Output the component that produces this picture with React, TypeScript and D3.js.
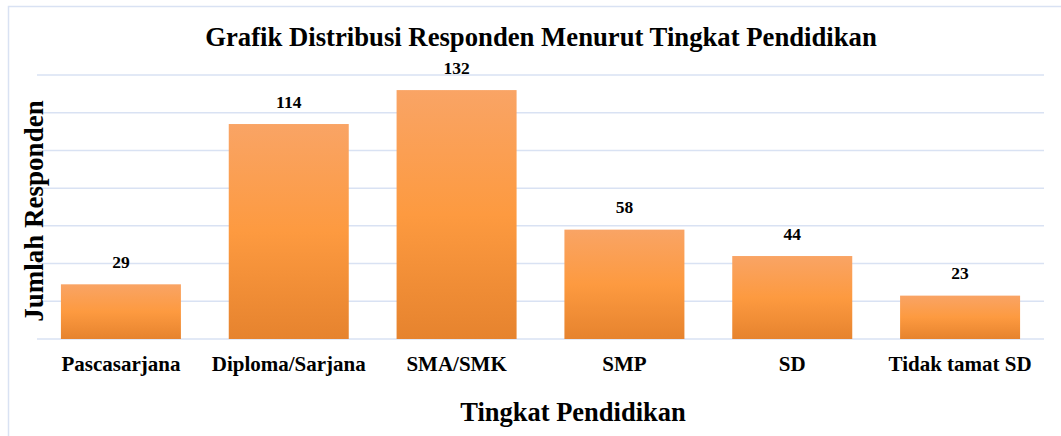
import React, { useEffect, useRef } from 'react';
import * as d3 from 'd3';

const categories = ['Pascasarjana', 'Diploma/Sarjana', 'SMA/SMK', 'SMP', 'SD', 'Tidak tamat SD'];
const values = [29, 114, 132, 58, 44, 23];
const yTicks = [0, 20, 40, 60, 80, 100, 120, 140];

const chartTitle = 'Grafik Distribusi Responden Menurut Tingkat Pendidikan';
const xTitle = 'Tingkat Pendidikan';
const yTitle = 'Jumlah Responden';

export default function App() {
  const ref = useRef<SVGSVGElement>(null);

  useEffect(() => {
    const svg = d3.select(ref.current);
    svg.selectAll('*').remove();

    const W = 1061;
    const H = 436;
    const margin = { top: 75, right: 17, bottom: 97, left: 37 };
    const font = '"Liberation Serif", "Times New Roman", serif';

    svg.attr('width', W).attr('height', H).style('display', 'block');

    // outer frame
    svg.append('rect')
      .attr('x', 8.5).attr('y', 6.5)
      .attr('width', W + 10).attr('height', H + 10)
      .attr('fill', '#fff')
      .attr('stroke', '#d9e2f3')
      .attr('stroke-width', 1.5);

    const defs = svg.append('defs');
    const grad = defs.append('linearGradient')
      .attr('id', 'barGrad')
      .attr('x1', 0).attr('y1', 0).attr('x2', 0).attr('y2', 1);
    grad.append('stop').attr('offset', '0%').attr('stop-color', '#f9a465');
    grad.append('stop').attr('offset', '50%').attr('stop-color', '#fd9a40');
    grad.append('stop').attr('offset', '100%').attr('stop-color', '#e6832e');

    const x = d3.scaleBand()
      .domain(categories)
      .range([margin.left, W - margin.right])
      .paddingInner(0.285)
      .paddingOuter(0.1425);

    const y = d3.scaleLinear()
      .domain([0, 140])
      .range([H - margin.bottom, margin.top]);

    // gridlines
    svg.append('g')
      .selectAll('line')
      .data(yTicks)
      .enter()
      .append('line')
      .attr('x1', margin.left)
      .attr('x2', W - margin.right)
      .attr('y1', (d) => y(d))
      .attr('y2', (d) => y(d))
      .attr('stroke', '#d9e2f3')
      .attr('stroke-width', 1.5);

    // bars
    svg.append('g')
      .selectAll('rect')
      .data(values)
      .enter()
      .append('rect')
      .attr('x', (_, i) => x(categories[i]) as number)
      .attr('y', (d) => y(d))
      .attr('width', x.bandwidth())
      .attr('height', (d) => y(0) - y(d))
      .attr('fill', 'url(#barGrad)');

    // value labels
    svg.append('g')
      .selectAll('text')
      .data(values)
      .enter()
      .append('text')
      .attr('x', (_, i) => (x(categories[i]) as number) + x.bandwidth() / 2)
      .attr('y', (d) => y(d) - 16.5)
      .attr('text-anchor', 'middle')
      .style('font-family', font)
      .style('font-weight', 'bold')
      .style('font-size', '17.5px')
      .text((d) => d);

    // category labels
    svg.append('g')
      .selectAll('text')
      .data(categories)
      .enter()
      .append('text')
      .attr('x', (d) => (x(d) as number) + x.bandwidth() / 2)
      .attr('y', 371)
      .attr('text-anchor', 'middle')
      .style('font-family', font)
      .style('font-weight', 'bold')
      .style('font-size', '21px')
      .text((d) => d);

    // titles
    svg.append('text')
      .attr('x', 541)
      .attr('y', 46)
      .attr('text-anchor', 'middle')
      .style('font-family', font)
      .style('font-weight', 'bold')
      .style('font-size', '26.7px')
      .text(chartTitle);

    svg.append('text')
      .attr('x', 573)
      .attr('y', 421)
      .attr('text-anchor', 'middle')
      .style('font-family', font)
      .style('font-weight', 'bold')
      .style('font-size', '26.5px')
      .text(xTitle);

    svg.append('text')
      .attr('transform', 'translate(43,211) rotate(-90)')
      .attr('text-anchor', 'middle')
      .style('font-family', font)
      .style('font-weight', 'bold')
      .style('font-size', '27px')
      .text(yTitle);
  }, []);

  return (
    <div style={{ position: 'absolute', left: 0, top: 0 }}>
      <svg ref={ref} />
    </div>
  );
}
